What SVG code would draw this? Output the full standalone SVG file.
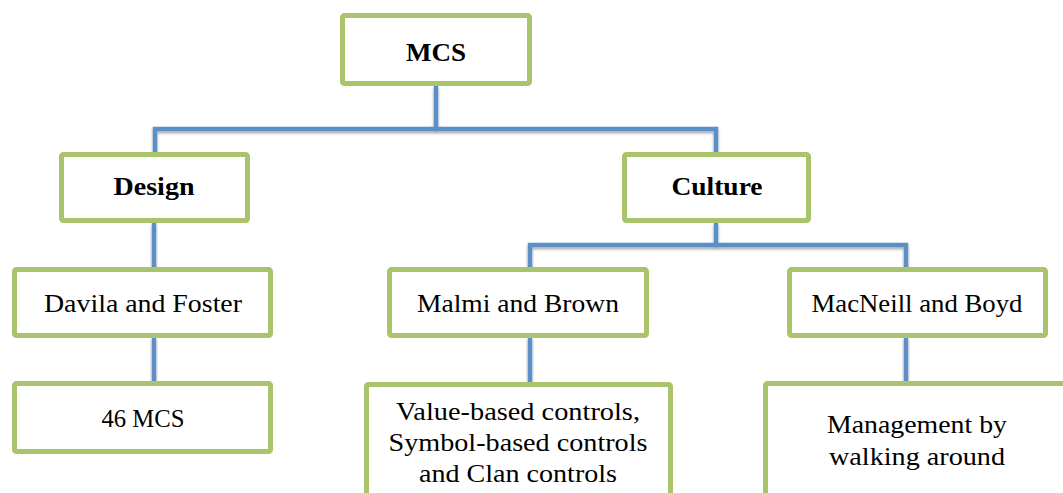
<svg xmlns="http://www.w3.org/2000/svg" width="1063" height="493" viewBox="0 0 1063 493">
<style>
.box{fill:#fff;stroke:#a9c46a;stroke-width:5}
.con{fill:none;stroke:#5b8fc6;stroke-width:4.5;filter:url(#sh)}
text{font-family:"Liberation Serif","Times New Roman",serif;font-size:25px;fill:#000;text-anchor:middle}
.b{font-weight:bold}
</style>
<defs>
<filter id="sh" filterUnits="userSpaceOnUse" x="0" y="0" width="1063" height="493">
<feGaussianBlur in="SourceAlpha" stdDeviation="1.5"/>
<feOffset dx="0" dy="2" result="o"/>
<feComponentTransfer><feFuncA type="linear" slope="0.35"/></feComponentTransfer>
<feMerge><feMergeNode/><feMergeNode in="SourceGraphic"/></feMerge>
</filter>
</defs>
<rect width="1063" height="493" fill="#fff"/>
<g id="connectors">
<path class="con" d="M436 86 V129"/>
<path class="con" d="M155 152 V129 H716 V152"/>
<path class="con" d="M154 223 V267"/>
<path class="con" d="M154 338 V381"/>
<path class="con" d="M716 223 V245"/>
<path class="con" d="M530 267 V245 H906 V267"/>
<path class="con" d="M530 338 V382"/>
<path class="con" d="M906 338 V381"/>
</g>
<g id="mcs"><rect class="box" x="342.5" y="15.5" width="187" height="68" rx="2"/><text class="b" x="436" y="61" font-size="30" textLength="60" lengthAdjust="spacingAndGlyphs">MCS</text></g>
<g id="design"><rect class="box" x="61.5" y="154.5" width="186" height="66" rx="2"/><text class="b" x="154" y="195" textLength="81" lengthAdjust="spacingAndGlyphs">Design</text></g>
<g id="culture"><rect class="box" x="624.5" y="154.5" width="184" height="66" rx="2"/><text class="b" x="717" y="195" textLength="91" lengthAdjust="spacingAndGlyphs">Culture</text></g>
<g id="davila"><rect class="box" x="14.5" y="269.5" width="256" height="66" rx="2"/><text x="143" y="312" textLength="198" lengthAdjust="spacingAndGlyphs">Davila and Foster</text></g>
<g id="malmi"><rect class="box" x="389.5" y="269.5" width="257" height="66" rx="2"/><text x="518" y="312" textLength="202" lengthAdjust="spacingAndGlyphs">Malmi and Brown</text></g>
<g id="macneill"><rect class="box" x="789.5" y="269.5" width="256" height="66" rx="2"/><text x="917" y="312" textLength="211" lengthAdjust="spacingAndGlyphs">MacNeill and Boyd</text></g>
<g id="mcs46"><rect class="box" x="14.5" y="383.5" width="256" height="68" rx="2"/><text x="143" y="427" textLength="83" lengthAdjust="spacingAndGlyphs">46 MCS</text></g>
<g id="value"><rect class="box" x="366.5" y="384.5" width="304" height="130" rx="2"/>
<text x="518" y="420" textLength="244" lengthAdjust="spacingAndGlyphs">Value-based controls,</text>
<text x="518" y="451" textLength="259" lengthAdjust="spacingAndGlyphs">Symbol-based controls</text>
<text x="518" y="482" textLength="198" lengthAdjust="spacingAndGlyphs">and Clan controls</text></g>
<g id="management"><rect class="box" x="765.5" y="383.5" width="320" height="130" rx="2"/>
<text x="917" y="433" textLength="180" lengthAdjust="spacingAndGlyphs">Management by</text>
<text x="917" y="465" textLength="176" lengthAdjust="spacingAndGlyphs">walking around</text></g>
</svg>
